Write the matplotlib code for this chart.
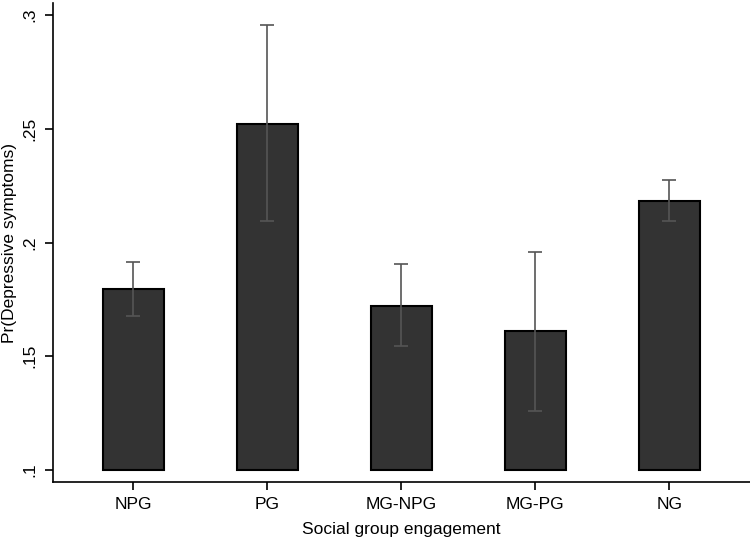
import matplotlib
matplotlib.use("Agg")
import matplotlib.pyplot as plt
import numpy as np

plt.rcParams['font.family'] = ['Liberation Sans', 'DejaVu Sans']

groups = ["NPG", "PG", "MG-NPG", "MG-PG", "NG"]
prob = [0.1796, 0.2522, 0.1721, 0.1611, 0.2183]
ci_low = [0.1677, 0.2095, 0.1545, 0.1259, 0.2095]
ci_high = [0.1914, 0.2957, 0.1905, 0.1958, 0.2275]
base = 0.1

yticks = [0.1, 0.15, 0.2, 0.25, 0.3]
ytick_labels = [".1", ".15", ".2", ".25", ".3"]

fig = plt.figure(figsize=(7.5, 5.43), dpi=100)
ax = fig.add_axes([0.0707, 0.1123, 0.929, 0.8822])

x = np.arange(len(groups))
heights = [p - base for p in prob]
ax.bar(x, heights, bottom=base, width=0.46, color="#333333",
       edgecolor="black", linewidth=1.5, zorder=2)

err = [[p - lo for p, lo in zip(prob, ci_low)],
       [hi - p for p, hi in zip(prob, ci_high)]]
ax.errorbar(x, prob, yerr=err, fmt="none", ecolor="#555555",
            elinewidth=1.2, capsize=5, capthick=1.2, zorder=3)

ax.set_xlim(-0.6, 4.6)
ax.set_ylim(0.0947, 0.3053)
ax.set_xticks(x)
ax.set_xticklabels(groups, fontsize=12.5)
ax.set_yticks(yticks)
ax.set_yticklabels(ytick_labels, fontsize=12.5, rotation=90, va="center")

ax.spines["top"].set_visible(False)
ax.spines["right"].set_visible(False)
ax.spines["left"].set_linewidth(1.2)
ax.spines["bottom"].set_linewidth(1.2)
ax.tick_params(direction="out", length=6, width=1.2, pad=5)

ax.set_ylabel("Pr(Depressive symptoms)", fontsize=12.5, labelpad=4)
ax.set_xlabel("Social group engagement", fontsize=12.5, labelpad=7)

fig.savefig("out.png", dpi=100)
